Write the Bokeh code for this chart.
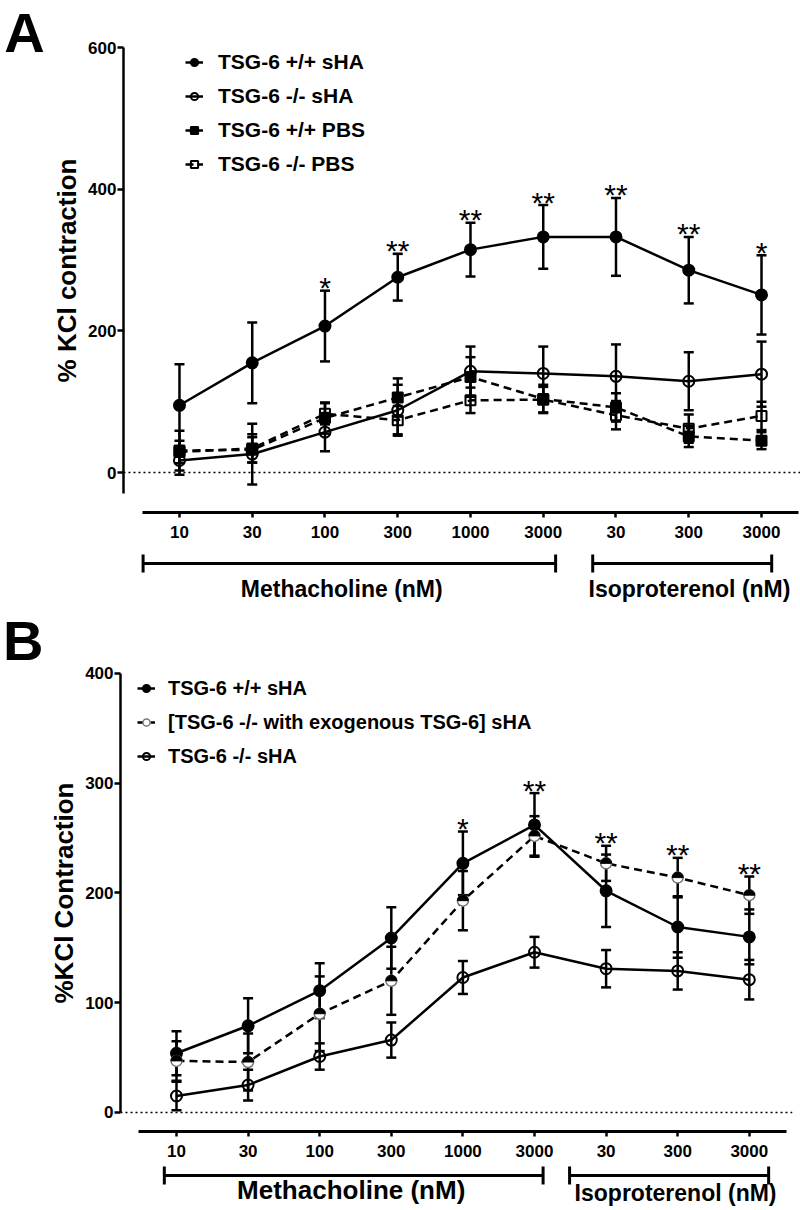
import numpy as np
from bokeh.plotting import figure
from bokeh.layouts import column
from bokeh.models import (ColumnDataSource, Whisker, TeeHead, Legend, LegendItem,
                          LinearAxis, FixedTicker, Range1d)
from bokeh.core.properties import value
from bokeh.embed import file_html
from bokeh.resources import INLINE

# ---------------- data ----------------
doses = ["10", "30", "100", "300", "1000", "3000", "30", "300", "3000"]
positions = list(range(len(doses)))

# Panel A
a_labels = ["TSG-6 +/+ sHA", "TSG-6 -/- sHA", "TSG-6 +/+ PBS", "TSG-6 -/- PBS"]
a_wt_sha = [95, 155, 207, 276, 315, 333, 333, 286, 251]
a_wt_sha_err = [58, 57, 50, 33, 38, 45, 55, 47, 56]
a_ko_sha = [17, 26, 57, 88, 143, 140, 136, 129, 139]
a_ko_sha_err = [20, 43, 27, 36, 35, 38, 45, 41, 46]
a_wt_pbs = [31, 32, 77, 106, 135, 104, 92, 51, 45]
a_wt_pbs_err = [28, 18, 22, 27, 28, 20, 20, 15, 12]
a_ko_pbs = [29, 34, 83, 74, 102, 103, 81, 62, 80]
a_ko_pbs_err = [16, 20, 15, 20, 18, 18, 20, 20, 20]
a_stars = ["", "", "*", "**", "**", "**", "**", "**", "*"]

# Panel B
b_labels = ["TSG-6 +/+ sHA", "[TSG-6 -/- with exogenous TSG-6] sHA", "TSG-6 -/- sHA"]
b_wt = [54, 79, 111, 159, 227, 262, 202, 169, 160]
b_wt_err = [20, 25, 25, 28, 29, 29, 33, 28, 25]
b_exo = [47, 46, 90, 120, 193, 252, 227, 214, 198]
b_exo_err = [18, 26, 34, 31, 27, 18, 16, 18, 17]
b_ko = [15, 25, 51, 66, 123, 146, 131, 129, 121]
b_ko_err = [13, 14, 12, 16, 15, 14, 17, 17, 18]
b_stars = ["", "", "", "", "*", "**", "**", "**", "**"]

groups = ["Methacholine (nM)", "Isoproterenol (nM)"]

FONT = "Liberation Sans"


def base_fig(height, xr, yr):
    p = figure(width=800, height=height, output_backend="svg", toolbar_location=None,
               x_range=Range1d(*xr), y_range=Range1d(*yr), x_axis_type=None, y_axis_type=None,
               min_border_left=0, min_border_right=0, min_border_top=0,
               min_border_bottom=0)
    p.outline_line_color = None
    p.grid.visible = False
    return p


def y_axis(ticks, bounds, loc, label):
    return LinearAxis(ticker=FixedTicker(ticks=ticks, minor_ticks=[]), bounds=bounds,
                      fixed_location=loc,
                      axis_label=label, axis_label_text_font=FONT,
                      axis_label_text_font_size="26px", axis_label_text_font_style="bold",
                      axis_label_text_color="black", axis_label_standoff=3,
                      major_label_text_font=FONT, major_label_text_font_size="17px",
                      major_label_text_font_style="bold", major_label_text_color="black",
                      major_label_standoff=1, major_tick_out=6, major_tick_in=0,
                      minor_tick_out=0, minor_tick_in=0, axis_line_width=2.5,
                      major_tick_line_width=2.5, axis_line_color="black",
                      major_tick_line_color="black")


def x_axis(loc, bounds):
    return LinearAxis(ticker=FixedTicker(ticks=positions, minor_ticks=[]),
                      major_label_overrides={i: d for i, d in zip(positions, doses)},
                      bounds=bounds, fixed_location=loc,
                      major_label_text_font=FONT, major_label_text_font_size="17px",
                      major_label_text_font_style="bold", major_label_text_color="black",
                      major_label_standoff=9, major_tick_out=5, major_tick_in=0,
                      minor_tick_out=0, minor_tick_in=0, axis_line_width=3,
                      major_tick_line_width=2.5, axis_line_color="black",
                      major_tick_line_color="black")


def series(p, y, err, marker, dashed, filled, half=False):
    src = ColumnDataSource(dict(x=positions, y=y,
                                lo=[a - b for a, b in zip(y, err)],
                                hi=[a + b for a, b in zip(y, err)]))
    ln = p.line("x", "y", source=src, line_color="black", line_width=2.5,
                line_dash="8 5" if dashed else "solid")
    wh = Whisker(source=src, base="x", lower="lo", upper="hi", line_width=2.5,
                 line_color="black",
                 upper_head=TeeHead(size=10, line_width=2.5, line_color="black"),
                 lower_head=TeeHead(size=10, line_width=2.5, line_color="black"))
    p.add_layout(wh)
    if half:
        sc = p.scatter("x", "y", source=src, marker="circle", size=11, line_color="#777777",
                       line_width=1.5, fill_color="white")
        p.wedge("x", "y", source=src, radius=5.5, radius_units="screen", start_angle=0,
                end_angle=np.pi, fill_color="black", line_color="black", line_width=1)
    else:
        sc = p.scatter("x", "y", source=src, marker=marker, size=11 if marker == "circle" else 10,
                       line_color="black", line_width=2,
                       fill_color="black" if filled else None)
    return [ln, sc]


def stars(p, tops, marks):
    xs = [i for i, s in zip(positions, marks) if s]
    ys = [t for t, s in zip(tops, marks) if s]
    ts = [s for s in marks if s]
    p.text(xs, ys, text=ts, text_font=value(FONT), text_font_size="30px",
           text_align="center", text_baseline="middle", y_offset=-3, text_color="black")


def brackets(p, base, spans, head):
    src = ColumnDataSource(dict(base=[base] * len(spans), lo=[s[0] for s in spans],
                                hi=[s[1] for s in spans]))
    p.add_layout(Whisker(source=src, base="base", lower="lo", upper="hi", dimension="width",
                         line_width=3, line_color="black",
                         upper_head=TeeHead(size=head, line_width=3, line_color="black"),
                         lower_head=TeeHead(size=head, line_width=3, line_color="black")))


def zero_line(p, x0, x1):
    p.segment(x0=[x0], x1=[x1], y0=[0], y1=[0], line_color="black", line_width=1.5,
              line_dash="2 3")


def panel_letter(p, x, y, letter):
    p.text([x], [y], text=[letter], text_font=value(FONT), text_font_size="56px",
           text_font_style="bold", text_align="center", text_baseline="middle",
           text_color="black")


# ---------------- Panel A ----------------
ax_a = -0.77
pA = base_fig(608, (-2.46, 8.536), (-192.2, 667.1))
pA.add_layout(y_axis([0, 200, 400, 600], (-30, 600), ax_a, "% KCl contraction"), "left")
pA.add_layout(x_axis(-56.5, (-0.51, 8.51)), "below")
zero_line(pA, ax_a, 8.536)

ra = [
    series(pA, a_wt_sha, a_wt_sha_err, "circle", False, True),
    series(pA, a_ko_sha, a_ko_sha_err, "circle", False, False),
    series(pA, a_wt_pbs, a_wt_pbs_err, "square", True, True),
    series(pA, a_ko_pbs, a_ko_pbs_err, "square", True, False),
]
stars(pA, [m + e for m, e in zip(a_wt_sha, a_wt_sha_err)], a_stars)

brackets(pA, -128.6, [(-0.5, 5.17), (5.68, 8.14)], 18)
pA.text([2.23, 7.01], [-164, -164], text=groups, text_font=value(FONT),
        text_font_style="bold", text_font_size="23px", text_align="center",
        text_baseline="middle", text_color="black")

legA = Legend(items=[LegendItem(label=l, renderers=r) for l, r in zip(a_labels, ra)],
              location=(185, 432), label_text_font=FONT, label_text_font_size="21px",
              label_text_font_style="bold", label_text_color="black", glyph_width=18,
              glyph_height=24, label_height=24, label_standoff=15, spacing=10, padding=0,
              margin=0, border_line_alpha=0, background_fill_alpha=0)
pA.add_layout(legA)
panel_letter(pA, -2.131, 622, "A")

# ---------------- Panel B ----------------
ax_b = -0.782
pB = base_fig(602, (-2.458, 8.715), (-89.3, 459.2))
pB.add_layout(y_axis([0, 100, 200, 300, 400], (0, 400), ax_b, "%KCl Contraction"), "left")
pB.add_layout(x_axis(-17.3, (-0.53, 8.52)), "below")
zero_line(pB, ax_b, 8.6)

rb = [
    series(pB, b_wt, b_wt_err, "circle", False, True),
    series(pB, b_exo, b_exo_err, "circle", True, False, half=True),
    series(pB, b_ko, b_ko_err, "circle", False, False),
]
tops_b = [max(a + b, c + d, e + f) for a, b, c, d, e, f in
          zip(b_wt, b_wt_err, b_exo, b_exo_err, b_ko, b_ko_err)]
stars(pB, tops_b, b_stars)

brackets(pB, -57.4, [(-0.17, 5.12), (5.49, 8.27)], 18)
pB.text([2.44, 6.97], [-71.0, -73.8], text=groups, text_font=value(FONT),
        text_font_style="bold", text_font_size=["26px", "23px"], text_align="center",
        text_baseline="middle", text_color="black")

legB = Legend(items=[LegendItem(label=l, renderers=r) for l, r in zip(b_labels, rb)],
              location=(137, 442), label_text_font=FONT, label_text_font_size="20px",
              label_text_font_style="bold", label_text_color="black", glyph_width=18,
              glyph_height=24, label_height=24, label_standoff=13, spacing=10, padding=0,
              margin=0, border_line_alpha=0, background_fill_alpha=0)
pB.add_layout(legB)
panel_letter(pB, -2.14, 430, "B")

layout = column(pA, pB, spacing=0)
open("out.html", "w").write(file_html(layout, INLINE))
